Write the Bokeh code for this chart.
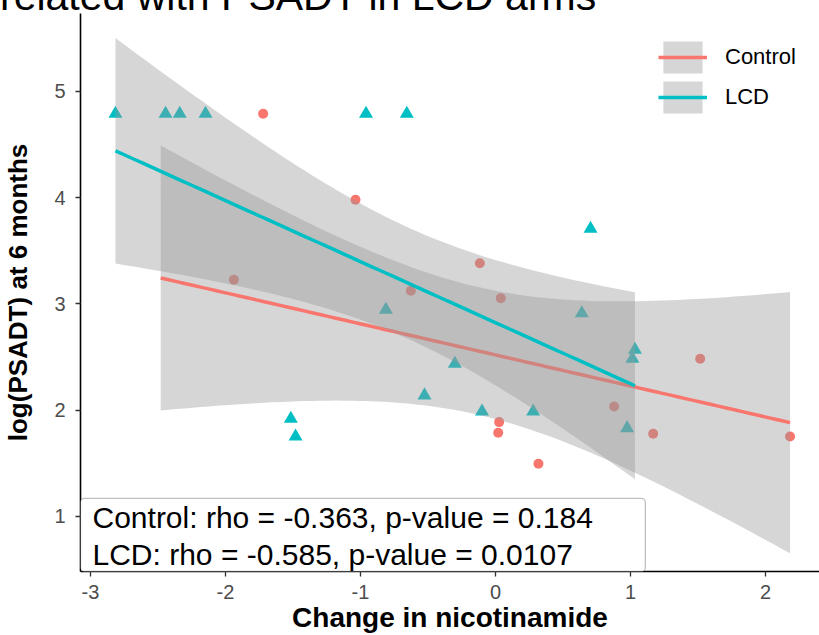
import math
import numpy as np
from bokeh.plotting import figure
from bokeh.layouts import column
from bokeh.models import (ColumnDataSource, Range1d, FixedTicker, Label,
                          BoxAnnotation, Legend, LegendItem, Div)
from bokeh.embed import file_html
from bokeh.resources import INLINE

# ---------------- data ----------------
control_x = [-2.48, -1.721, -1.037, -0.116, -1.938, -0.627, 0.039,
             1.516, 0.879, 0.027, 0.020, 1.168, 2.182, 0.318]
control_y = [1.02, 4.790, 3.981, 3.384, 3.228, 3.125, 3.055,
             2.484, 2.035, 1.888, 1.788, 1.778, 1.753, 1.496]

lcd_x = [-2.815, -2.444, -2.339, -2.148, -0.959, -0.657, 0.704, -0.812,
         0.639, 1.033, 1.014, -0.301, -0.526, -0.100, 0.279, -1.516,
         0.975, -1.481]
lcd_y = [4.790, 4.790, 4.790, 4.790, 4.790, 4.790, 3.708, 2.945,
         2.913, 2.569, 2.484, 2.437, 2.139, 1.988, 1.988, 1.920,
         1.831, 1.753]

x_ticks = [-3, -2, -1, 0, 1, 2]
y_ticks = [1, 2, 3, 4, 5]

title_text = "related with PSADT in LCD arms"
stat_lines = ["Control: rho = -0.363, p-value = 0.184",
              "LCD: rho = -0.585, p-value = 0.0107"]
group_names = ["Control", "LCD"]

RED = "#F8766D"
TEAL = "#00BFC4"
FONT = "Liberation Sans"


def t_quantile(p, df):
    xs = np.linspace(0.0, 12.0, 240001)
    c = math.gamma((df + 1) / 2) / (math.sqrt(df * math.pi) * math.gamma(df / 2))
    pdf = c * (1 + xs ** 2 / df) ** (-(df + 1) / 2)
    cdf = 0.5 + np.concatenate([[0.0], np.cumsum((pdf[1:] + pdf[:-1]) / 2 * np.diff(xs))])
    return float(np.interp(p, cdf, xs))


def lm_fit(x, y, n_grid=80):
    x = np.asarray(x, float)
    y = np.asarray(y, float)
    n = len(x)
    mx, my = x.mean(), y.mean()
    sxx = ((x - mx) ** 2).sum()
    b = ((x - mx) * (y - my)).sum() / sxx
    a = my - b * mx
    resid = y - (a + b * x)
    s = math.sqrt((resid ** 2).sum() / (n - 2))
    gx = np.linspace(x.min(), x.max(), n_grid)
    gy = a + b * gx
    se = s * np.sqrt(1.0 / n + (gx - mx) ** 2 / sxx)
    t = t_quantile(0.975, n - 2)
    return gx, gy, gy - t * se, gy + t * se


# ---------- strip holding the (cropped) title ----------
title_div = Div(
    text=('<div style="position:relative; top:-24px; left:0px; white-space:nowrap; '
          'font-family:\'Liberation Sans\', Arial, sans-serif; font-size:41px; '
          'line-height:41px; color:black; margin:0; padding:0;">'
          + title_text + '</div>'),
    width=819, height=13, margin=0,
    styles={"overflow": "visible", "margin": "0", "padding": "0"})

# ---------- main plot ----------
p = figure(width=819, height=622, output_backend="svg", toolbar_location=None,
           x_range=Range1d(-3.074, 2.40), y_range=Range1d(0.482, 5.734),
           min_border_left=80, min_border_right=0, min_border_top=0,
           min_border_bottom=64)
p.outline_line_color = None
p.xgrid.visible = False
p.ygrid.visible = False
p.background_fill_color = "white"

# points first (ribbons drawn on top like ggplot)
p.scatter(control_x, control_y, marker="circle", size=10, color=RED, line_color=None)
p.scatter(lcd_x, lcd_y, marker="triangle", size=14, color=TEAL, line_color=None)

legend_items = []
for name, xs, ys, col in [(group_names[0], control_x, control_y, RED),
                          (group_names[1], lcd_x, lcd_y, TEAL)]:
    gx, gy, lo, hi = lm_fit(xs, ys)
    src = ColumnDataSource(dict(x=gx, y=gy, lo=lo, hi=hi))
    rib = p.varea(x="x", y1="lo", y2="hi", source=src, fill_color="#999999", fill_alpha=0.4)
    ln = p.line(x="x", y="y", source=src, line_color=col, line_width=3.5)
    legend_items.append(LegendItem(label=name, renderers=[rib, ln]))

# axes
for ax in (p.xaxis, p.yaxis):
    ax.axis_line_color = "black"
    ax.axis_line_width = 1.6
    ax.major_tick_line_color = "#333333"
    ax.major_tick_line_width = 1.3
    ax.major_tick_out = 5
    ax.major_tick_in = 0
    ax.minor_tick_line_color = None
    ax.major_label_text_font = FONT
    ax.major_label_text_font_size = "20px"
    ax.major_label_text_color = "#4D4D4D"
    ax.axis_label_text_font = FONT
    ax.axis_label_text_font_style = "bold"
    ax.axis_label_text_color = "black"

p.xaxis.ticker = FixedTicker(ticks=x_ticks)
p.yaxis.ticker = FixedTicker(ticks=y_ticks)
p.xaxis.major_label_overrides = {t: str(t) for t in x_ticks}
p.yaxis.major_label_overrides = {t: str(t) for t in y_ticks}
p.xaxis.axis_label = "Change in nicotinamide"
p.yaxis.axis_label = "log(PSADT) at 6 months"
p.xaxis.axis_label_text_font_size = "28px"
p.yaxis.axis_label_text_font_size = "26px"
p.xaxis.major_label_standoff = 8
p.xaxis.axis_label_standoff = 0
p.yaxis.major_label_standoff = 10
p.yaxis.axis_label_standoff = 18

# stats box
box = BoxAnnotation(right=1.11, top=1.17, fill_color="white", fill_alpha=1.0,
                    line_color="#333333", line_width=1.3, border_radius=4)
p.add_layout(box)
p.add_layout(Label(x=-2.985, y=0.99, text=stat_lines[0], text_font=FONT,
                   text_font_size="30px", text_color="black",
                   text_baseline="alphabetic", text_align="left"))
p.add_layout(Label(x=-2.985, y=0.642, text=stat_lines[1], text_font=FONT,
                   text_font_size="30px", text_color="black",
                   text_baseline="alphabetic", text_align="left"))

legend = Legend(items=legend_items, location=(578, 454), orientation="vertical",
                glyph_width=49, glyph_height=40, label_height=40, label_standoff=18,
                spacing=0, padding=0, margin=0, border_line_alpha=0,
                background_fill_alpha=0, label_text_font=FONT,
                label_text_font_size="22px", label_text_color="black")
p.add_layout(legend)

layout = column(title_div, p, spacing=0)
open("out.html", "w").write(file_html(layout, INLINE))
